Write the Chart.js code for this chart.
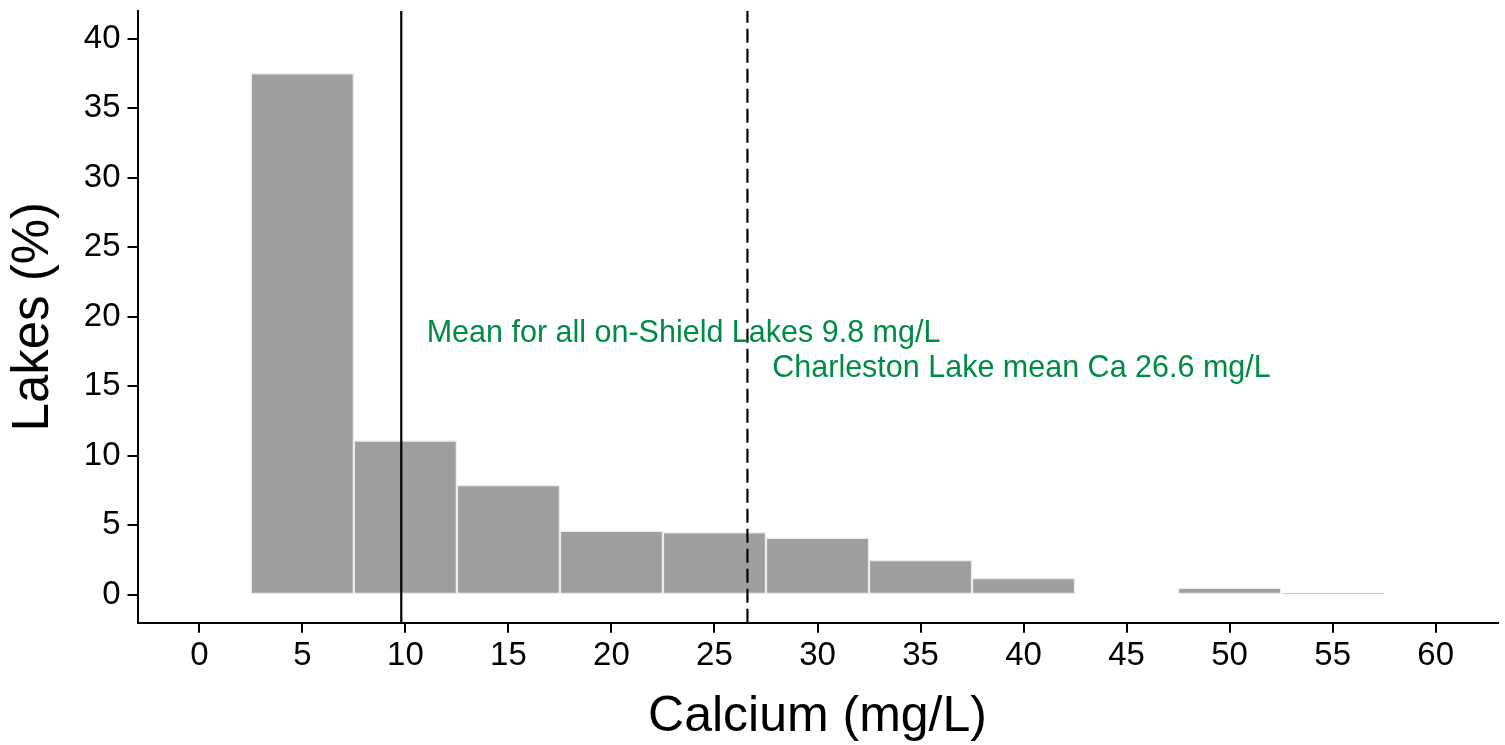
<!DOCTYPE html>
<html>
<head>
<meta charset="utf-8">
<script src="https://cdn.jsdelivr.net/npm/chart.js@4.4.1/dist/chart.umd.min.js"></script>
<style>
  html, body { margin: 0; padding: 0; background: #ffffff; }
  #wrap { width: 1505px; height: 745px; }
</style>
</head>
<body>
<div id="wrap"><canvas id="c" width="1505" height="745"></canvas></div>
<script>
// ---- data ----
const binCenters = [5, 10, 15, 20, 25, 30, 35, 40, 45, 50, 55];
const lakesPct   = [37.5, 11.1, 7.9, 4.6, 4.5, 4.1, 2.5, 1.2, 0, 0.5, 0.1];
const xTickValues = [0, 5, 10, 15, 20, 25, 30, 35, 40, 45, 50, 55, 60];
const yTickValues = [0, 5, 10, 15, 20, 25, 30, 35, 40];
const meanAllShield = 9.8;
const meanCharleston = 26.6;
const annotationTexts = ['Mean for all on-Shield Lakes 9.8 mg/L', 'Charleston Lake mean Ca 26.6 mg/L'];
const annotationX = [23.5, 39.9];
const annotationY = [19.0, 16.45];

const FONT = '"Liberation Sans", Arial, Helvetica, sans-serif';
const GREEN = '#008B45';

const annotationPlugin = {
  id: 'textAnnotations',
  afterDatasetsDraw(chart) {
    const ctx = chart.ctx;
    const xs = chart.scales.x, ys = chart.scales.y;
    const size = 30.5;
    ctx.save();
    ctx.font = size + 'px ' + FONT;
    ctx.fillStyle = GREEN;
    ctx.textAlign = 'center';
    ctx.textBaseline = 'alphabetic';
    annotationTexts.forEach((t, i) => {
      const px = xs.getPixelForValue(annotationX[i]);
      const py = ys.getPixelForValue(annotationY[i]) + size * 0.358;
      ctx.fillText(t, px, py);
    });
    ctx.restore();
  }
};

function vline(x, dash) {
  return {
    type: 'line',
    data: [{x: x, y: -2}, {x: x, y: 42}],
    borderColor: '#000000',
    borderWidth: 2.2,
    borderDash: dash,
    pointRadius: 0,
    fill: false,
    order: 0
  };
}

new Chart(document.getElementById('c'), {
  type: 'bar',
  data: {
    datasets: [
      {
        type: 'bar',
        data: binCenters.map((b, i) => ({x: b, y: lakesPct[i]})),
        backgroundColor: '#9e9e9e',
        borderColor: '#ececec',
        borderWidth: 1.5,
        borderSkipped: false,
        barPercentage: 1,
        categoryPercentage: 1,
        grouped: false,
        order: 1
      },
      vline(meanAllShield, []),
      vline(meanCharleston, [14, 6])
    ]
  },
  options: {
    responsive: false,
    animation: false,
    events: [],
    layout: { padding: { left: 0, top: 10.7, right: 7.5, bottom: 0 } },
    plugins: { legend: { display: false }, tooltip: { enabled: false } },
    scales: {
      x: {
        type: 'linear',
        offset: false,
        min: -3,
        max: 63,
        afterBuildTicks: (s) => { s.ticks = xTickValues.map(v => ({value: v})); },
        afterFit: (s) => { s.height = 122.3; s.paddingLeft = 0; s.paddingRight = 0; },
        ticks: {
          color: '#000000',
          font: { family: FONT, size: 33 },
          padding: 3,
          maxRotation: 0,
          autoSkip: false
        },
        grid: { display: true, offset: false, drawOnChartArea: false, drawTicks: true, tickLength: 10, color: '#000000', lineWidth: 2 },
        border: { display: true, color: '#000000', width: 2 },
        title: {
          display: true,
          text: 'Calcium (mg/L)',
          color: '#000000',
          font: { family: FONT, size: 50, lineHeight: 1 },
          padding: { top: 0, bottom: 3 }
        }
      },
      y: {
        type: 'linear',
        min: -2,
        max: 42,
        afterBuildTicks: (s) => { s.ticks = yTickValues.map(v => ({value: v})); },
        afterFit: (s) => { s.width = 137.5; s.paddingTop = 0; s.paddingBottom = 0; },
        ticks: {
          color: '#000000',
          font: { family: FONT, size: 33 },
          padding: 7,
          autoSkip: false
        },
        grid: { display: true, drawOnChartArea: false, drawTicks: true, tickLength: 10, color: '#000000', lineWidth: 2 },
        border: { display: true, color: '#000000', width: 2 },
        title: {
          display: true,
          text: 'Lakes (%)',
          color: '#000000',
          font: { family: FONT, size: 51, lineHeight: 1 },
          padding: { top: 8, bottom: 0 }
        }
      }
    }
  },
  plugins: [annotationPlugin]
});
</script>
</body>
</html>
